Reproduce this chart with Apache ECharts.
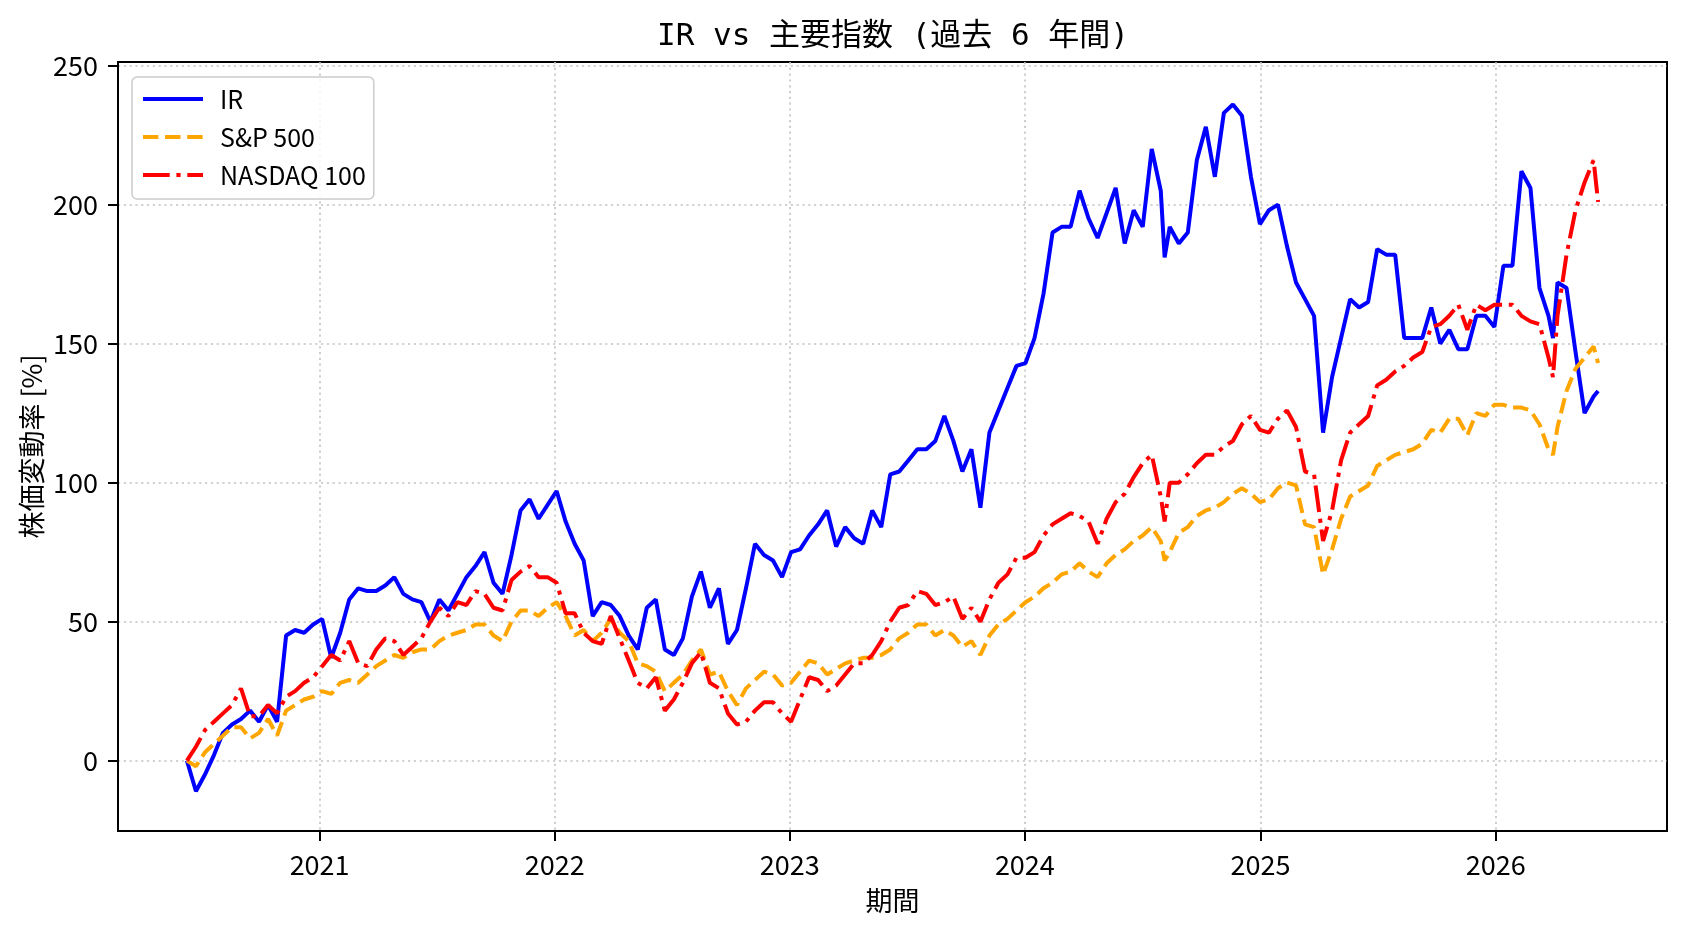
<!DOCTYPE html>
<html>
<head>
<meta charset="utf-8">
<title>IR vs 主要指数</title>
<script src="https://cdn.jsdelivr.net/npm/echarts@6/dist/echarts.min.js"></script>
<style>
  body { margin: 0; background: #fff; }
  #chart { width: 1688px; height: 932px; }
</style>
</head>
<body>
<div id="chart"></div>
<script>
// 2週間ごとの終値ベース変動率 [%]
const dates = [
  '2020-06-09','2020-06-23','2020-07-07','2020-07-21','2020-08-04','2020-08-18','2020-09-01','2020-09-15','2020-09-29','2020-10-13',
  '2020-10-27','2020-11-10','2020-11-24','2020-12-08','2020-12-22','2021-01-05','2021-01-19','2021-02-02','2021-02-16','2021-03-02',
  '2021-03-16','2021-03-30','2021-04-13','2021-04-27','2021-05-11','2021-05-25','2021-06-08','2021-06-22','2021-07-06','2021-07-20',
  '2021-08-03','2021-08-17','2021-08-31','2021-09-14','2021-09-28','2021-10-12','2021-10-26','2021-11-09','2021-11-23','2021-12-07',
  '2021-12-21','2022-01-04','2022-01-18','2022-02-01','2022-02-15','2022-03-01','2022-03-15','2022-03-29','2022-04-12','2022-04-26',
  '2022-05-10','2022-05-24','2022-06-07','2022-06-21','2022-07-05','2022-07-19','2022-08-02','2022-08-16','2022-08-30','2022-09-13',
  '2022-09-27','2022-10-11','2022-10-25','2022-11-08','2022-11-22','2022-12-06','2022-12-20','2023-01-03','2023-01-17','2023-01-31',
  '2023-02-14','2023-02-28','2023-03-14','2023-03-28','2023-04-11','2023-04-25','2023-05-09','2023-05-23','2023-06-06','2023-06-20',
  '2023-07-04','2023-07-18','2023-08-01','2023-08-15','2023-08-29','2023-09-12','2023-09-26','2023-10-10','2023-10-24','2023-11-07',
  '2023-11-21','2023-12-05','2023-12-19','2024-01-02','2024-01-16','2024-01-30','2024-02-13','2024-02-27','2024-03-12','2024-03-26',
  '2024-04-09','2024-04-23','2024-05-07','2024-05-21','2024-06-04','2024-06-18','2024-07-02','2024-07-16','2024-07-30','2024-08-05',
  '2024-08-13','2024-08-27','2024-09-10','2024-09-24','2024-10-08','2024-10-22','2024-11-05','2024-11-19','2024-12-03','2024-12-17',
  '2024-12-31','2025-01-14','2025-01-28','2025-02-11','2025-02-25','2025-03-11','2025-03-25','2025-04-08','2025-04-22','2025-05-06',
  '2025-05-20','2025-06-03','2025-06-17','2025-07-01','2025-07-15','2025-07-29','2025-08-12','2025-08-26','2025-09-09','2025-09-23',
  '2025-10-07','2025-10-21','2025-11-04','2025-11-18','2025-12-02','2025-12-16','2025-12-30','2026-01-13','2026-01-27','2026-02-10',
  '2026-02-24','2026-03-10','2026-03-24','2026-03-31','2026-04-07','2026-04-21','2026-05-05','2026-05-19','2026-06-02','2026-06-09'
];

const ir = [
  0, -11, -5, 2, 10, 13, 15, 18, 14, 20,
  14, 45, 47, 46, 49, 51, 37, 46, 58, 62,
  61, 61, 63, 66, 60, 58, 57, 50, 58, 54,
  60, 66, 70, 75, 64, 60, 74, 90, 94, 87,
  92, 97, 86, 78, 72, 52, 57, 56, 52, 45,
  40, 55, 58, 40, 38, 44, 59, 68, 55, 62,
  42, 47, 62, 78, 74, 72, 66, 75, 76, 81,
  85, 90, 77, 84, 80, 78, 90, 84, 103, 104,
  108, 112, 112, 115, 124, 115, 104, 112, 91, 118,
  126, 134, 142, 143, 152, 168, 190, 192, 192, 205,
  195, 188, 197, 206, 186, 198, 192, 220, 205, 181,
  192, 186, 190, 216, 228, 210, 233, 236, 232, 210,
  193, 198, 200, 185, 172, 166, 160, 118, 138, 152,
  166, 163, 165, 184, 182, 182, 152, 152, 152, 163,
  150, 155, 148, 148, 160, 160, 156, 178, 178, 212,
  206, 170, 160, 152, 172, 170, 147, 125, 131, 133
];

const sp500 = [
  0, -2, 3, 6, 9, 12, 12, 8, 10, 15,
  9, 18, 20, 22, 23, 25, 24, 28, 29, 28,
  31, 34, 36, 38, 37, 39, 40, 40, 43, 45,
  46, 47, 49, 49, 45, 43, 50, 54, 54, 52,
  55, 57, 52, 45, 47, 43, 46, 51, 46, 43,
  35, 34, 32, 25, 28, 31, 36, 40, 31, 32,
  25, 20, 26, 29, 32, 31, 27, 28, 32, 36,
  35, 31, 33, 35, 36, 37, 37, 38, 40, 44,
  46, 49, 49, 45, 47, 45, 41, 43, 38, 45,
  49, 51, 54, 57, 59, 62, 64, 67, 68, 71,
  68, 66, 71, 74, 76, 79, 81, 84, 79, 72,
  75, 82, 84, 88, 90, 91, 93, 96, 98, 96,
  93, 94, 98, 100, 99, 85, 84, 67, 76, 87,
  95, 97, 99, 106, 108, 110, 111, 112, 114, 119,
  118, 123, 123, 117, 125, 124, 128, 128, 127, 127,
  126, 121, 112, 110, 120, 133, 141, 145, 149, 143
];

const ndx = [
  0, 5, 11, 14, 17, 20, 26, 16, 16, 20,
  17, 23, 25, 28, 30, 34, 38, 36, 43, 35,
  34, 40, 44, 43, 38, 41, 44, 50, 55, 52,
  57, 56, 61, 60, 55, 54, 65, 68, 70, 66,
  66, 64, 53, 53, 46, 43, 42, 52, 44, 36,
  28, 26, 30, 18, 22, 28, 35, 39, 28, 26,
  17, 13, 14, 18, 21, 21, 17, 14, 22, 30,
  29, 25, 27, 31, 35, 35, 38, 43, 50, 55,
  56, 61, 60, 56, 57, 59, 51, 55, 50, 58,
  64, 67, 73, 73, 75, 81, 85, 87, 89, 88,
  86, 78, 87, 93, 96, 102, 107, 110, 95, 86,
  100, 100, 103, 107, 110, 110, 113, 115, 121, 124,
  119, 118, 123, 126, 120, 104, 103, 79, 90, 108,
  118, 121, 124, 135, 137, 140, 142, 145, 147, 156,
  157, 160, 164, 155, 164, 162, 164, 164, 164, 160,
  158, 157, 145, 138, 160, 182, 198, 208, 216, 201
];

const yearTicks = [2021, 2022, 2023, 2024, 2025, 2026];
const yTicks = [0, 50, 100, 150, 200, 250];

const FONT = "'Noto Sans CJK JP', sans-serif";

function toTime(s) {
    const p = s.split('-').map(Number);
    return new Date(p[0], p[1] - 1, p[2]).getTime();
}

function pairs(values) {
    return dates.map((d, i) => [toTime(d), values[i]]);
}

const yearTimes = yearTicks.map(y => new Date(y, 0, 1).getTime());

const chart = echarts.init(document.getElementById('chart'));

const gridLine = { show: true, lineStyle: { color: '#c4c4c4', width: 1.6, type: [2.2, 3.6] } };

const option = {
    animation: false,
    backgroundColor: '#fff',
    textStyle: { fontFamily: FONT, color: '#000' },
    graphic: [
        {
            type: 'text',
            x: 893,
            y: 37,
            style: {
                text: 'IR vs 主要指数 (過去 6 年間)',
                font: "31px 'DejaVu Sans Mono', 'Noto Sans CJK JP', sans-serif",
                fill: '#000',
                textAlign: 'center',
                textVerticalAlign: 'middle'
            }
        }
    ],
    legend: {
        orient: 'vertical',
        left: 132,
        top: 77,
        padding: [7, 8, 9, 9],
        itemWidth: 60,
        itemHeight: 14,
        itemGap: 8,
        backgroundColor: 'rgba(255,255,255,0.8)',
        borderColor: '#cccccc',
        borderWidth: 1.5,
        borderRadius: 5,
        itemStyle: { opacity: 0 },
        lineStyle: { width: 4 },
        textStyle: {
            fontFamily: FONT,
            fontSize: 25,
            lineHeight: 30,
            color: '#000',
            padding: [0, 0, 0, 12]
        },
        data: ['IR', 'S&P 500', 'NASDAQ 100']
    },
    grid: {
        left: 118,
        right: 21,
        top: 62,
        bottom: 101,
        show: true,
        borderColor: '#000',
        borderWidth: 2,
        backgroundColor: '#fff'
    },
    xAxis: {
        type: 'value',
        min: new Date(2020, 1, 23).getTime(),
        max: new Date(2026, 8, 24).getTime(),
        name: '期間',
        nameLocation: 'middle',
        nameGap: 56,
        nameTextStyle: { fontFamily: FONT, fontSize: 27, color: '#000' },
        axisLine: { show: true, onZero: false, lineStyle: { color: '#000', width: 2 } },
        axisTick: {
            show: true,
            inside: false,
            length: 10,
            lineStyle: { color: '#000', width: 2 },
            customValues: yearTimes
        },
        axisLabel: {
            fontFamily: FONT,
            fontSize: 27,
            color: '#000',
            margin: 20,
            customValues: yearTimes,
            formatter: v => String(new Date(v).getFullYear())
        },
        splitLine: gridLine
    },
    yAxis: {
        type: 'value',
        min: -25.3,
        max: 251.3,
        name: '株価変動率 [%]',
        nameLocation: 'middle',
        nameGap: 73,
        nameMoveOverlap: false,
        nameTextStyle: { fontFamily: FONT, fontSize: 27, color: '#000' },
        axisLine: { show: true, onZero: false, lineStyle: { color: '#000', width: 2 } },
        axisTick: {
            show: true,
            inside: false,
            length: 10,
            lineStyle: { color: '#000', width: 2 },
            customValues: yTicks
        },
        axisLabel: {
            fontFamily: FONT,
            fontSize: 27,
            color: '#000',
            margin: 20,
            customValues: yTicks
        },
        splitLine: gridLine
    },
    series: [
        {
            name: 'IR',
            type: 'line',
            symbol: 'none',
            data: pairs(ir),
            itemStyle: { color: '#0000ff' },
            lineStyle: { color: '#0000ff', width: 4 }
        },
        {
            name: 'S&P 500',
            type: 'line',
            symbol: 'none',
            data: pairs(sp500),
            itemStyle: { color: '#ffa500' },
            lineStyle: { color: '#ffa500', width: 4, type: [15.4, 6.7] }
        },
        {
            name: 'NASDAQ 100',
            type: 'line',
            symbol: 'none',
            data: pairs(ndx),
            itemStyle: { color: '#ff0000' },
            lineStyle: { color: '#ff0000', width: 4, type: [26.7, 6.7, 4.2, 6.7] }
        }
    ]
};

chart.setOption(option);
</script>
</body>
</html>
